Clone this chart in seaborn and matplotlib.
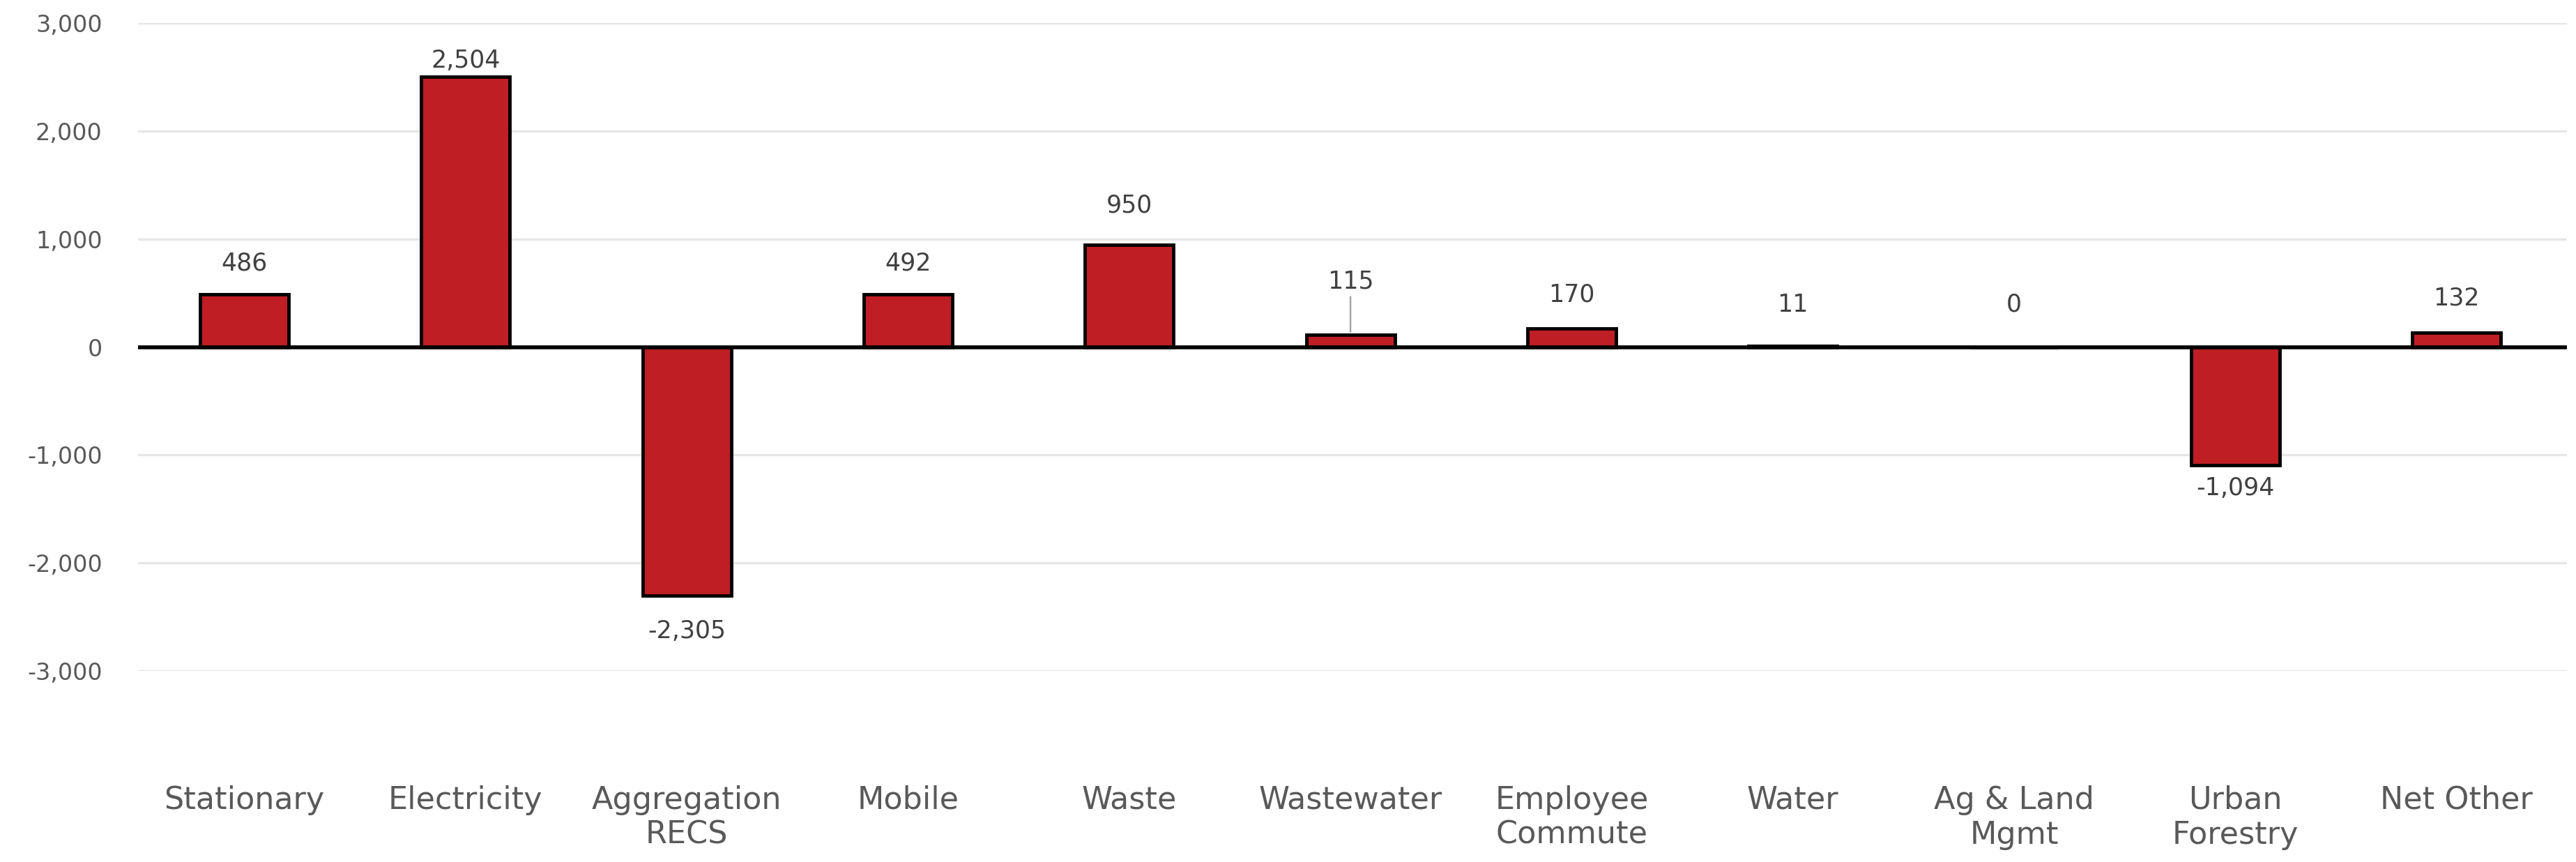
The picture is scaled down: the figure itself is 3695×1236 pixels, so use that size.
import matplotlib
matplotlib.use('Agg')
import matplotlib.pyplot as plt
import seaborn as sns
import pandas as pd

# Chart data
categories = ['Stationary', 'Electricity', 'Aggregation\nRECS', 'Mobile', 'Waste',
              'Wastewater', 'Employee\nCommute', 'Water', 'Ag & Land\nMgmt',
              'Urban\nForestry', 'Net Other']
values = [486, 2504, -2305, 492, 950, 115, 170, 11, 0, -1094, 132]
y_ticks = [-3000, -2000, -1000, 0, 1000, 2000, 3000]

# label offsets from bar end, in pixels
label_offsets = [45, 23, -51, 44, 56, 76, 49, 59, 61, -33, 50]

df = pd.DataFrame({'category': categories, 'value': values})

sns.set_style('white')
plt.rcParams['font.family'] = ['DejaVu Sans']

fig = plt.figure(figsize=(36.95, 12.36), dpi=100)
ax = fig.add_axes([0.0536, 0.2217, 0.943, 0.7513])

sns.barplot(data=df, x='category', y='value', color='#BE1E24', saturation=1,
            width=0.4, edgecolor='black', linewidth=3.5, ax=ax, zorder=3)

ax.set_ylim(-3000, 3000)
ax.set_xlim(-0.48, 10.5)
ax.set_yticks(y_ticks)
ax.set_yticklabels([f'{t:,}' for t in y_ticks])
ax.yaxis.grid(True, color='#E6E6E6', linewidth=2.4, zorder=0)
ax.axhline(0, color='black', linewidth=4, zorder=4)
for s in ax.spines.values():
    s.set_visible(False)

ax.tick_params(axis='y', length=0, pad=37, labelsize=24, labelcolor='#595959')
ax.tick_params(axis='x', length=0, pad=118, labelsize=32, labelcolor='#595959')
ax.set_xlabel('')
ax.set_ylabel('')

for i, (v, off) in enumerate(zip(values, label_offsets)):
    kw = {}
    if categories[i] == 'Wastewater':
        kw = dict(arrowprops=dict(arrowstyle='-', color='#A6A6A6', lw=1.8,
                                  shrinkA=1, shrinkB=3))
    ax.annotate(f'{v:,}', xy=(i, v), xytext=(0, off * 0.72), textcoords='offset points',
                ha='center', va='center', fontsize=25, color='#404040', **kw)

plt.savefig('out.png', dpi=100)
